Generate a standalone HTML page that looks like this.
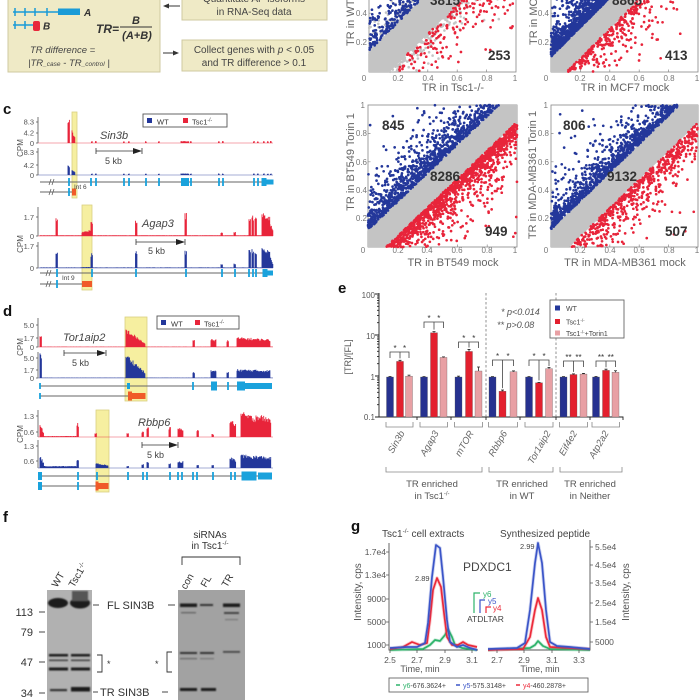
<!DOCTYPE html>
<html><head><meta charset="utf-8">
<style>
html,body{margin:0;padding:0;background:#fff;width:700px;height:700px;overflow:hidden}
svg{display:block}
text{font-family:"Liberation Sans",Arial,sans-serif}
</style></head><body>
<svg id="s" xmlns="http://www.w3.org/2000/svg" width="700" height="700" viewBox="0 0 700 700">
<defs>
<filter id="bl" x="-50%" y="-100%" width="200%" height="300%"><feGaussianBlur stdDeviation="0.9"/></filter>
<filter id="bl2" x="-50%" y="-100%" width="200%" height="300%"><feGaussianBlur stdDeviation="0.5"/></filter>
</defs>

<!-- ===== Panel b ===== -->
<rect x="8" y="-5" width="152" height="77" fill="#efeac6" stroke="#cfc9a0" stroke-width="1"/>
<g stroke="#1a9bd7" stroke-width="1.5" fill="none">
<line x1="13" y1="12" x2="60" y2="12"/>
<line x1="15" y1="8" x2="15" y2="16"/><line x1="25" y1="8" x2="25" y2="16"/><line x1="35" y1="8" x2="35" y2="16"/><line x1="47" y1="8" x2="47" y2="16"/>
<line x1="13" y1="25" x2="34" y2="25"/>
<line x1="15" y1="21" x2="15" y2="29"/><line x1="25" y1="21" x2="25" y2="29"/>
</g>
<rect x="58" y="8.5" width="22" height="6.5" fill="#1a9bd7"/>
<rect x="33" y="21" width="7" height="10" rx="2" fill="#e8283a"/>
<text x="84" y="16" font-size="10" font-style="italic" font-weight="bold" fill="#333">A</text>
<text x="43" y="29.5" font-size="10" font-style="italic" font-weight="bold" fill="#333">B</text>
<text x="96" y="33" font-size="12" font-style="italic" font-weight="bold" fill="#333">TR=</text>
<text x="136" y="24" font-size="11" font-style="italic" font-weight="bold" fill="#333" text-anchor="middle">B</text>
<line x1="120" y1="27" x2="152" y2="27" stroke="#333" stroke-width="1"/>
<text x="137" y="39" font-size="11" font-style="italic" font-weight="bold" fill="#333" text-anchor="middle">(A+B)</text>
<text x="30" y="53" font-size="9.5" font-style="italic" fill="#444">TR difference =</text>
<text x="28" y="66" font-size="9.5" font-style="italic" fill="#444">|TR<tspan font-size="6.5">_case</tspan> - TR<tspan font-size="6.5">_control</tspan> |</text>
<line x1="166" y1="6" x2="180" y2="6" stroke="#333" stroke-width="1"/>
<polygon points="163,6 169,3.5 169,8.5" fill="#333"/>
<line x1="163" y1="53" x2="175" y2="53" stroke="#333" stroke-width="1"/>
<polygon points="179,53 173,50.5 173,55.5" fill="#333"/>
<rect x="182" y="-5" width="145" height="25" fill="#efeac6" stroke="#cfc9a0"/>
<text x="254" y="2" font-size="10" fill="#444" text-anchor="middle">Quantitate AP isoforms</text>
<text x="254" y="15" font-size="10" fill="#444" text-anchor="middle">in RNA-Seq data</text>
<rect x="182" y="40" width="145" height="31" fill="#efeac6" stroke="#cfc9a0"/>
<text x="254" y="53" font-size="10" fill="#444" text-anchor="middle">Collect genes with <tspan font-style="italic">p</tspan> &lt; 0.05</text>
<text x="254" y="66" font-size="10" fill="#444" text-anchor="middle">and TR difference &gt; 0.1</text>

<!-- ===== scatter labels ===== -->
<g font-size="8" fill="#777">
<text x="367" y="16" text-anchor="end">0.4</text><text x="367" y="45" text-anchor="end">0.2</text>
<text x="364" y="81" text-anchor="middle">0</text><text x="398" y="81" text-anchor="middle">0.2</text><text x="428" y="81" text-anchor="middle">0.4</text><text x="457" y="81" text-anchor="middle">0.6</text><text x="487" y="81" text-anchor="middle">0.8</text><text x="515" y="81" text-anchor="middle">1</text>
<text x="549" y="16" text-anchor="end">0.4</text><text x="549" y="45" text-anchor="end">0.2</text>
<text x="546" y="81" text-anchor="middle">0</text><text x="580" y="81" text-anchor="middle">0.2</text><text x="610" y="81" text-anchor="middle">0.4</text><text x="639" y="81" text-anchor="middle">0.6</text><text x="669" y="81" text-anchor="middle">0.8</text><text x="697" y="81" text-anchor="middle">1</text>
<text x="365" y="108" text-anchor="end">1</text><text x="367" y="136" text-anchor="end">0.8</text><text x="367" y="165" text-anchor="end">0.6</text><text x="367" y="193" text-anchor="end">0.4</text><text x="367" y="221" text-anchor="end">0.2</text>
<text x="363" y="253" text-anchor="middle">0</text><text x="398" y="253" text-anchor="middle">0.2</text><text x="427" y="253" text-anchor="middle">0.4</text><text x="457" y="253" text-anchor="middle">0.6</text><text x="487" y="253" text-anchor="middle">0.8</text><text x="515" y="253" text-anchor="middle">1</text>
<text x="548" y="108" text-anchor="end">1</text><text x="549" y="136" text-anchor="end">0.8</text><text x="549" y="165" text-anchor="end">0.6</text><text x="549" y="193" text-anchor="end">0.4</text><text x="549" y="221" text-anchor="end">0.2</text>
<text x="546" y="253" text-anchor="middle">0</text><text x="580" y="253" text-anchor="middle">0.2</text><text x="610" y="253" text-anchor="middle">0.4</text><text x="639" y="253" text-anchor="middle">0.6</text><text x="669" y="253" text-anchor="middle">0.8</text><text x="697" y="253" text-anchor="middle">1</text>
</g>
<g font-size="11" fill="#666">
<text x="453" y="91" text-anchor="middle">TR in Tsc1-/-</text>
<text x="625" y="91" text-anchor="middle">TR in MCF7 mock</text>
<text x="453" y="266" text-anchor="middle">TR in BT549 mock</text>
<text x="625" y="266" text-anchor="middle">TR in MDA-MB361 mock</text>
<text transform="translate(354,46) rotate(-90)">TR in WT (Tsc1+/+)</text>
<text transform="translate(537,45) rotate(-90)">TR in MCF7 Torin1</text>
<text transform="translate(354,162) rotate(-90)" text-anchor="middle">TR in BT549 Torin 1</text>
<text transform="translate(536,175) rotate(-90)" text-anchor="middle">TR in MDA-MB361 Torin 1</text>
</g>
<g id="scat"></g>
<g font-size="13.5" font-weight="bold" fill="#333">
<text x="430" y="5">3815</text><text x="488" y="60">253</text>
<text x="612" y="5">8865</text><text x="665" y="60">413</text>
<text x="382" y="130">845</text><text x="430" y="181">8286</text><text x="485" y="236">949</text>
<text x="563" y="130">806</text><text x="607" y="181">9132</text><text x="665" y="236">507</text>
</g>

<!-- ===== Panel c ===== -->
<text x="3" y="114" font-size="15" font-weight="bold" fill="#111">c</text>
<rect x="72" y="112" width="5" height="86" fill="#f6efa0" stroke="#d9d082" stroke-width="0.8"/>
<rect x="82" y="205" width="10" height="85" fill="#f6efa0" stroke="#d9d082" stroke-width="0.8"/>
<rect x="125" y="317" width="22" height="84" fill="#f6efa0" stroke="#d9d082" stroke-width="0.8"/>
<rect x="96" y="410" width="13" height="82" fill="#f6efa0" stroke="#d9d082" stroke-width="0.8"/>
<g id="trk"></g>
<g font-size="7.5" fill="#555" text-anchor="end">
<text x="34" y="124.5">8.3</text><text x="34" y="135.5">4.2</text><text x="34" y="146">0</text>
<text x="34" y="155">8.3</text><text x="34" y="168">4.2</text><text x="34" y="178">0</text>
<text x="34" y="220">1.7</text><text x="34" y="239">0</text>
<text x="34" y="249">1.7</text><text x="34" y="271">0</text>
<text x="34" y="328">5.0</text><text x="34" y="341">1.7</text><text x="34" y="350">0</text>
<text x="34" y="361">5.0</text><text x="34" y="373">1.7</text><text x="34" y="381">0</text>
<text x="34" y="419">1.3</text><text x="34" y="435">0.6</text>
<text x="34" y="449">1.3</text><text x="34" y="464">0.6</text>
</g>
<g font-size="8" fill="#555">
<text transform="translate(23,148) rotate(-90)" text-anchor="middle">CPM</text>
<text transform="translate(23,244) rotate(-90)" text-anchor="middle">CPM</text>
<text transform="translate(23,347) rotate(-90)" text-anchor="middle">CPM</text>
<text transform="translate(23,434) rotate(-90)" text-anchor="middle">CPM</text>
</g>
<g font-size="11" font-style="italic" fill="#444">
<text x="100" y="139">Sin3b</text>
<text x="142" y="227">Agap3</text>
<text x="63" y="341">Tor1aip2</text>
<text x="138" y="426">Rbbp6</text>
</g>
<g stroke="#333" stroke-width="0.8">
<line x1="96" y1="151" x2="137" y2="151"/><line x1="96" y1="148" x2="96" y2="154"/><line x1="142" y1="148" x2="142" y2="154"/>
<line x1="136" y1="242" x2="180" y2="242"/><line x1="136" y1="239" x2="136" y2="245"/><line x1="185" y1="239" x2="185" y2="245"/>
<line x1="64" y1="353" x2="101" y2="353"/><line x1="64" y1="350" x2="64" y2="356"/><line x1="106" y1="350" x2="106" y2="356"/>
<line x1="142" y1="445" x2="173" y2="445"/><line x1="142" y1="442" x2="142" y2="448"/><line x1="178" y1="442" x2="178" y2="448"/>
</g>
<g fill="#222">
<polygon points="142,151 133,148 133,154"/>
<polygon points="185,242 176,239 176,245"/>
<polygon points="106,353 97,350 97,356"/>
<polygon points="178,445 169,442 169,448"/>
</g>
<g font-size="9" fill="#444">
<text x="105" y="164">5 kb</text>
<text x="148" y="254">5 kb</text>
<text x="72" y="366">5 kb</text>
<text x="147" y="458">5 kb</text>
</g>
<g font-size="6.5" fill="#444"><text x="74" y="189">Int 6</text><text x="62" y="280">Int 9</text></g>
<rect x="143" y="114" width="84" height="13" fill="#fff" stroke="#555" stroke-width="0.9"/>
<rect x="147" y="118" width="5" height="5" fill="#23379a"/><text x="157" y="124.5" font-size="7.5" fill="#333">WT</text>
<rect x="183" y="118" width="5" height="5" fill="#e8243a"/><text x="192" y="124.5" font-size="7.5" fill="#333">Tsc1<tspan font-size="5" dy="-3">-/-</tspan></text>
<rect x="157" y="316" width="82" height="13" fill="#fff" stroke="#555" stroke-width="0.9"/>
<rect x="161" y="320" width="5" height="5" fill="#23379a"/><text x="171" y="326.5" font-size="7.5" fill="#333">WT</text>
<rect x="195" y="320" width="5" height="5" fill="#e8243a"/><text x="204" y="326.5" font-size="7.5" fill="#333">Tsc1<tspan font-size="5" dy="-3">-/-</tspan></text>

<!-- ===== Panel d ===== -->
<text x="3" y="316" font-size="15" font-weight="bold" fill="#111">d</text>

<!-- ===== Panel e ===== -->
<text x="338" y="293" font-size="15" font-weight="bold" fill="#111">e</text>
<g id="pe"></g>
<line x1="486" y1="293" x2="486" y2="417" stroke="#777" stroke-width="0.8" stroke-dasharray="2.5,2"/>
<line x1="556" y1="293" x2="556" y2="417" stroke="#777" stroke-width="0.8" stroke-dasharray="2.5,2"/>
<g font-size="8" fill="#555" text-anchor="end">
<text x="375" y="298">100</text><text x="375" y="339">10</text><text x="375" y="380">1</text><text x="375" y="420">0.1</text>
</g>
<text transform="translate(351,357) rotate(-90)" font-size="9" fill="#555" text-anchor="middle">[TR]/[FL]</text>
<g font-size="9" font-style="italic" fill="#555">
<text x="501" y="315">* p&lt;0.014</text>
<text x="497" y="328">** p&gt;0.08</text>
</g>
<rect x="550" y="300" width="74" height="38" fill="#fff" stroke="#666" stroke-width="0.9"/>
<rect x="555" y="305.5" width="5" height="5" fill="#23379a"/>
<rect x="555" y="319" width="5" height="5" fill="#e3202e"/>
<rect x="555" y="330.5" width="5" height="5" fill="#e8a0a4"/>
<g font-size="7" fill="#444">
<text x="566" y="311">WT</text>
<text x="566" y="324.5">Tsc1<tspan font-size="4.5" dy="-2.5">-/-</tspan></text>
<text x="566" y="336">Tsc1<tspan font-size="4.5" dy="-2.5">-/-</tspan><tspan dy="2.5">+Torin1</tspan></text>
</g>
<g font-size="9.5" fill="#555" text-anchor="middle">
<text x="432" y="487">TR enriched</text><text x="432" y="499">in Tsc1<tspan font-size="6" dy="-3.5">-/-</tspan></text>
<text x="522" y="487">TR enriched</text><text x="522" y="499">in WT</text>
<text x="590" y="487">TR enriched</text><text x="590" y="499">in Neither</text>
</g>

<!-- ===== Panel f ===== -->
<text x="3" y="522" font-size="15" font-weight="bold" fill="#111">f</text>
<rect x="47" y="590" width="45" height="110" fill="#b1b1b1"/>
<rect x="178" y="590" width="67" height="110" fill="#a2a2a2"/>
<g filter="url(#bl)" fill="#1a1a1a">
<ellipse cx="58" cy="603" rx="10" ry="5"/>
<ellipse cx="80" cy="603" rx="10" ry="5.5"/>
<rect x="72" y="591" width="16" height="10" fill="#555"/>
<rect x="49" y="654" width="19" height="2.5"/><rect x="71" y="654" width="19" height="2.5"/>
<rect x="49" y="659.5" width="19" height="1.6" fill="#444"/><rect x="71" y="659.5" width="19" height="1.6" fill="#444"/>
<rect x="49" y="667.5" width="19" height="3"/><rect x="71" y="667.5" width="19" height="3"/>
<rect x="50" y="689" width="17" height="2.2" fill="#333"/>
<rect x="71" y="687" width="19" height="4.5"/>
<rect x="180" y="603.5" width="17" height="3.5"/>
<rect x="200" y="604" width="13" height="2" fill="#333"/>
<rect x="223" y="603.5" width="17" height="3.5"/>
<rect x="181" y="612" width="15" height="1.4" fill="#666"/>
<rect x="224" y="612" width="15" height="2" fill="#444"/>
<rect x="225" y="619" width="13" height="1.2" fill="#777"/>
<rect x="180" y="652" width="17" height="2" fill="#333"/>
<rect x="200" y="652" width="14" height="2" fill="#333"/>
<rect x="223" y="651" width="17" height="1.8" fill="#444"/>
<rect x="180" y="658" width="17" height="1.3" fill="#666"/>
<rect x="200" y="658" width="14" height="1.3" fill="#777"/>
<rect x="180" y="688" width="17" height="3"/>
<rect x="201" y="688" width="15" height="3"/>
</g>
<g font-size="11" fill="#333">
<text x="33" y="616" text-anchor="end">113</text>
<text x="33" y="636" text-anchor="end">79</text>
<text x="33" y="666" text-anchor="end">47</text>
<text x="33" y="697" text-anchor="end">34</text>
<text x="107" y="609">FL SIN3B</text>
<text x="100" y="696">TR SIN3B</text>
<text x="210" y="538" text-anchor="middle" font-size="10">siRNAs</text>
<text x="210" y="549" text-anchor="middle" font-size="10">in Tsc1<tspan font-size="6.5" dy="-4">-/-</tspan></text>
</g>
<g stroke="#333" stroke-width="0.9" fill="none">
<line x1="39" y1="612" x2="45" y2="612"/><line x1="39" y1="632" x2="45" y2="632"/><line x1="39" y1="662" x2="45" y2="662"/><line x1="39" y1="693" x2="45" y2="693"/>
<line x1="93" y1="605" x2="99" y2="605"/><line x1="168" y1="605" x2="175" y2="605"/>
<line x1="93" y1="692" x2="98" y2="692"/><line x1="162" y1="692" x2="168" y2="692"/>
<polyline points="97,655 102,655 102,672 97,672"/>
<polyline points="172,652 167,652 167,672 172,672"/>
<polyline points="182,565 182,557 240,557 240,565"/>
</g>
<text x="107" y="667" font-size="9" fill="#333">*</text>
<text x="155" y="667" font-size="9" fill="#333">*</text>
<g font-size="10" fill="#333">
<text transform="translate(57,588) rotate(-60)">WT</text>
<text transform="translate(74,588) rotate(-60)">Tsc1<tspan font-size="6.5" dy="-3">-/-</tspan></text>
<text transform="translate(186,590) rotate(-60)">con</text>
<text transform="translate(206,588) rotate(-60)">FL</text>
<text transform="translate(227,588) rotate(-60)">TR</text>
</g>

<!-- ===== Panel g ===== -->
<text x="351" y="531" font-size="15" font-weight="bold" fill="#111">g</text>
<text x="382" y="537" font-size="10" fill="#444">Tsc1<tspan font-size="6.5" dy="-4">-/-</tspan><tspan dy="4"> cell extracts</tspan></text>
<text x="500" y="537" font-size="10" fill="#444">Synthesized peptide</text>
<g stroke="#555" stroke-width="0.9" fill="none">
<polyline points="389,543 389,650 478,650"/>
<polyline points="488,650 590,650 590,540"/>
</g>
<g id="pg"></g>
<g font-size="8.5" fill="#555">
<text x="386" y="555" text-anchor="end">1.7e4</text><text x="386" y="578" text-anchor="end">1.3e4</text><text x="386" y="602" text-anchor="end">9000</text><text x="386" y="625" text-anchor="end">5000</text><text x="386" y="648" text-anchor="end">1000</text>
<text x="595" y="550">5.5e4</text><text x="595" y="568">4.5e4</text><text x="595" y="586">3.5e4</text><text x="595" y="606">2.5e4</text><text x="595" y="625">1.5e4</text><text x="595" y="645">5000</text>
<text x="390" y="663" text-anchor="middle">2.5</text><text x="417" y="663" text-anchor="middle">2.7</text><text x="445" y="663" text-anchor="middle">2.9</text><text x="472" y="663" text-anchor="middle">3.1</text>
<text x="497" y="663" text-anchor="middle">2.7</text><text x="524" y="663" text-anchor="middle">2.9</text><text x="552" y="663" text-anchor="middle">3.1</text><text x="579" y="663" text-anchor="middle">3.3</text>
</g>
<g font-size="9" fill="#555">
<text x="420" y="672" text-anchor="middle">Time, min</text>
<text x="540" y="672" text-anchor="middle">Time, min</text>
</g>
<g font-size="10" fill="#555">
<text transform="translate(361,592) rotate(-90)" text-anchor="middle">Intensity, cps</text>
<text transform="translate(629,592) rotate(-90)" text-anchor="middle">Intensity, cps</text>
</g>
<text x="463" y="571" font-size="12" fill="#444">PDXDC1</text>
<text x="415" y="581" font-size="7.5" fill="#444">2.89</text>
<text x="520" y="549" font-size="7.5" fill="#444">2.99</text>
<g fill="none" stroke-width="1.2">
<polyline points="480,593 474,593 474,613" stroke="#2db36a"/>
<polyline points="485,600 480,600 480,613" stroke="#3b55c8"/>
<polyline points="491,607 486,607 486,613" stroke="#ec2a3a"/>
</g>
<text x="483" y="597" font-size="8" fill="#2db36a">y6</text>
<text x="488" y="604" font-size="8" fill="#3b55c8">y5</text>
<text x="493" y="611" font-size="8" fill="#ec2a3a">y4</text>
<text x="467" y="622" font-size="8.5" fill="#444">ATDLTAR</text>
<rect x="389" y="678" width="199" height="14" fill="#fff" stroke="#666" stroke-width="0.9"/>
<g stroke-width="1.5"><line x1="396" y1="685" x2="400" y2="685" stroke="#2db36a"/><line x1="456" y1="685" x2="460" y2="685" stroke="#3b55c8"/><line x1="516" y1="685" x2="520" y2="685" stroke="#ec2a3a"/></g>
<g font-size="7" fill="#444">
<text x="403" y="688"><tspan fill="#2db36a">y6</tspan>-676.3624+</text>
<text x="463" y="688"><tspan fill="#3b55c8">y5</tspan>-575.3148+</text>
<text x="523" y="688"><tspan fill="#ec2a3a">y4</tspan>-460.2878+</text>
</g>
</svg>
<script>
(function(){
const NS="http://www.w3.org/2000/svg";
function el(tag,a,p){const e=document.createElementNS(NS,tag);for(const k in a)e.setAttribute(k,a[k]);p.appendChild(e);return e;}
let seed=987654;
function rnd(){seed=(seed*1103515245+12345)%2147483648;return seed/2147483648;}
function expo(s){return -Math.log(1-rnd()*0.9995)*s;}
const BLUE="#23379a",RED="#e8243a",GRAY="#c4c4c4";
const scat=document.getElementById('scat');
function dot(x,y,r){return "M"+(x-r).toFixed(1)+" "+y.toFixed(1)+"a"+r+" "+r+" 0 1 0 "+(2*r)+" 0a"+r+" "+r+" 0 1 0 "+(-2*r)+" 0";}
function scatter(x0,yb,W,H,w,nB,sB,nR,sR,nG,sG){
  const X=v=>x0+v*W,Y=v=>yb-v*H;
  const g=el('g',{},scat);
  el('rect',{x:x0,y:yb-H,width:W,height:H,fill:'#fff',stroke:'#888','stroke-width':0.8},g);
  let tk="";
  for(let i=1;i<5;i++){tk+="M"+X(i/5)+" "+yb+"v-2.5M"+x0+" "+Y(i/5)+"h2.5";}
  el('path',{d:tk,stroke:'#888','stroke-width':0.7},g);
  const pts=[[0,0],[w,0],[1,1-w],[1,1],[1-w,1],[0,w]];
  let gd="";
  for(let i=0;i<nG;i++){const x=rnd();const d=w-0.02+expo(sG);const side=rnd()<0.5?1:-1;const y=x+side*d;if(y<0||y>1)continue;gd+=dot(X(x),Y(y),1.3);}
  el('path',{d:gd,fill:GRAY},g);
  el('polygon',{points:pts.map(p=>X(p[0]).toFixed(1)+","+Y(p[1]).toFixed(1)).join(" "),fill:GRAY},g);
  let bd="",rd="";
  for(let i=0;i<nB*1.6&&nB>0;i++){const x=rnd();const d=w+(rnd()<0.85?expo(sB*0.8):expo(sB*2.2));const y=x+d;if(y>1)continue;bd+=dot(X(x),Y(y),1.35);}
  for(let i=0;i<nR*1.6&&nR>0;i++){const x=rnd();const d=w+(rnd()<0.85?expo(sR*0.8):expo(sR*2.2));const y=x-d;if(y<0)continue;rd+=dot(X(x),Y(y),1.35);}
  el('path',{d:bd,fill:BLUE},g);
  el('path',{d:rd,fill:RED},g);
}
scatter(369,72,147,147,0.14,420,0.11,200,0.16,700,0.06);
scatter(551,72,147,147,0.105,1500,0.075,380,0.1,80,0.015);
scatter(368,247,149,142,0.12,845,0.1,949,0.1,60,0.01);
scatter(551,247,147,142,0.125,806,0.09,507,0.12,60,0.01);

const trk=document.getElementById('trk');
function cov(y0,col,items,ax){
  el('line',{x1:38,y1:y0,x2:273,y2:y0,stroke:col,'stroke-width':0.7,opacity:0.55},trk);
  let d="";
  for(const it of items){const [x1,x2,h1,h2]=it;
    for(let x=x1;x<=x2;x+=0.7){const f=(x-x1)/Math.max(0.001,x2-x1);const h=(h1+(h2-h1)*f)*(0.72+0.28*rnd());d+="M"+x.toFixed(1)+" "+y0+"v"+(-h).toFixed(1);}
  }
  el('path',{d:d,stroke:col,'stroke-width':0.9,fill:'none'},trk);
  el('path',{d:"M38 "+ax[0]+"V"+y0+ax[1].map(t=>"M36 "+t+"h2").join(""),stroke:'#555','stroke-width':0.8,fill:'none'},trk);
}
function gene(y,x1,x2,ex,brk){
  el('line',{x1:x1,y1:y,x2:x2,y2:y,stroke:'#666','stroke-width':1.1},trk);
  if(brk){el('path',{d:"M"+(brk-1)+" "+(y+3)+"l2 -6M"+(brk+2)+" "+(y+3)+"l2 -6",stroke:'#666','stroke-width':0.8,fill:'none'},trk);}
  for(const e of ex){const [x,w,h,c]=e;el('rect',{x:x-w/2,y:y-h/2,width:w,height:h,fill:c||'#1aa2dc'},trk);}
}
const O='#f05a28';
const smallS=[92,96,124,129,146,159,185,191,219,223,254,258,264,268,271];
let r1=[[68,70,25,25],[72,75,13,6]],b1=[[68,70,10,10],[72,75,5,3]];
smallS.forEach(x=>{r1.push([x-0.5,x+0.5,2,2]);b1.push([x-0.5,x+0.5,1.5,1.5]);});
r1.push([181,189,2,2]);b1.push([181,189,1.5,1.5]);
cov(143,'#e8243a',r1,[117,[122,133,143]]);
cov(175,'#23379a',b1,[148,[152,165,175]]);
gene(182,40,268,[[69,1.8,8],[91,1.8,8],[96,1.8,8],[124,1.8,8],[129,1.8,8],[146,1.8,8],[159,1.8,8],[185,8,8],[191,1.8,8],[219,1.8,8],[223,1.8,8],[254,1.8,8],[258,1.8,8],[264,5,8],[270,7,5]],50);
gene(192,40,72,[[69,1.8,8],[74,4,7,O]],50);
cov(236,'#e8243a',[[40,273,0.8,0.8],[56,58,20,20],[82,92,4,7],[91,93,16,16],[135.5,137,16,16],[185,187,23,23],[221,223,4,4],[234,236,4,4],[249,251,20,20],[252,254,21,21],[255,257,19,19],[262,270,24,20],[270,273,14,6]],[207,[217,236]]);
cov(268,'#23379a',[[40,273,0.6,0.6],[56,58,16,16],[82,92,1,1],[91,93,15,15],[135.5,137,17,17],[185,187,18,18],[221,223,4,4],[234,236,5,5],[249,251,19,19],[252,254,19,19],[255,257,17,17],[262,270,21,18],[270,273,12,5]],[242,[246,268]]);
gene(273,40,268,[[57,1.8,8],[92,1.8,8],[136,1.8,8],[186,1.8,8],[222,1.8,8],[235,1.8,8],[249,1.8,8],[253,1.8,8],[256,1.8,8],[265,5,8],[270,6,5]],47);
gene(284,40,83,[[57,1.8,8],[87,10,6,O]],47);
cov(347,'#e8243a',[[40,273,0.4,0.4],[40,42,12,12],[126,145,19,4],[193,195,7,7],[211,216,8,8],[227,229,7,7],[237,270,10,8]],[318,[325,338,347]]);
cov(378,'#23379a',[[40,273,0.4,0.4],[40,42,25,25],[126,145,25,6],[193,195,6,6],[211,216,8,8],[227,229,6,6],[237,270,9,8]],[352,[358,370,378]]);
gene(386,40,268,[[40,1.8,6],[128.5,3,6],[193,1.8,8],[214,6,9],[228,1.8,8],[241,8,9],[258,28,6]],0);
gene(396,40,130,[[40,1.8,6],[137,17,6,O],[130,4,9,O]],0);
cov(437,'#e8243a',[[40,44,14,4],[44,78,1,1],[77,79,14,14],[95,97,4,4],[127,129,4,4],[142,144,6,6],[147,149,10,10],[169,171,10,10],[178,183,9,9],[197,199,8,8],[212,214,3,3],[230,236,18,14],[241,256,26,20],[256,271,24,19]],[410,[416,432]]);
cov(468,'#23379a',[[40,44,13,5],[44,78,2,2],[77,79,10,10],[96,108,5,3],[127,129,2,2],[142,144,4,4],[147,149,7,7],[169,171,5,5],[178,183,7,7],[197,199,3,3],[212,214,3,3],[230,236,12,8],[241,256,14,12],[256,271,13,11]],[440,[446,461]]);
gene(476,40,268,[[40,4,8],[78,1.8,8],[97,1.8,8],[128,1.8,8],[143,1.8,8],[147,1.8,8],[170,1.8,8],[178,1.8,8],[182,1.8,8],[193,1.8,8],[197,1.8,8],[213,1.8,8],[231,1.8,8],[235,1.8,8],[249,15,9],[265,14,7]],0);
gene(486,40,96,[[40,4,8],[78,1.8,8],[103,11,6,O],[97,3,9,O]],0);

const pe=document.getElementById('pe');
const ey=v=>377-41*Math.log10(v);
let ax="M379 293V417H623v3";
for(let dec=0;dec<3;dec++){const base=417-41*dec;ax+="M375 "+base+"h4";for(let k=2;k<10;k++){ax+="M377 "+(base-41*Math.log10(k)).toFixed(1)+"h2";}}
ax+="M375 294h4";
[417,451,486,520,556,590].forEach(x=>{ax+="M"+x+" 417v3";});
el('path',{d:ax,stroke:'#222','stroke-width':0.9,fill:'none'},pe);
const G=[["Sin3b",[390,400,409],[1,2.4,1.05],[.03,.15,.06],352,5],
["Agap3",[424,434,443.5],[1,12,3],[.02,.8,.1],322,5],
["mTOR",[458.5,469,478.5],[1,4.2,1.4],[.05,.5,.35],342,5],
["Rbbp6",[492.5,502.5,513.5],[1,.45,1.35],[.02,.03,.06],360,5],
["Tor1aip2",[529,539,549],[1,.72,1.6],[.02,.02,.12],360,12],
["Eif4e2",[563.5,573.5,583.5],[1,1.15,1.18],[.02,.04,.04],361,4],
["Atp2a2",[596,606,615.5],[1,1.45,1.3],[.03,.1,.12],361,3]];
const cols=["#26318f","#e3202e","#e8a0a4"];
G.forEach(g=>{
  const [name,cx,v,e,yb,off]=g;
  for(let i=0;i<3;i++){
    const t=ey(v[i]);
    el('rect',{x:cx[i]-3.5,y:t,width:7,height:417-t,fill:cols[i],stroke:'#555','stroke-width':0.3},pe);
    const te=ey(v[i]+e[i]);
    el('path',{d:"M"+cx[i]+" "+t+"V"+te+"M"+(cx[i]-1.5)+" "+te+"h3",stroke:'#222','stroke-width':0.8,fill:'none'},pe);
  }
  const rt=ey(v[1]+e[1]);
  el('path',{d:"M"+cx[0]+" "+(yb+6)+"V"+yb+"H"+cx[2]+"v6M"+cx[1]+" "+yb+"V"+Math.max(yb+4,rt-2),stroke:'#444','stroke-width':0.8,fill:'none'},pe);
  const star=(name==="Eif4e2"||name==="Atp2a2")?"**":"*";
  [(cx[0]+cx[1])/2,(cx[1]+cx[2])/2].forEach(x=>{el('text',{x:x,y:yb-1,'font-size':8,'text-anchor':'middle',fill:'#333'},pe).textContent=star;});
  el('path',{d:"M"+(cx[0]-4)+" 422V427H"+(cx[2]+4)+"V422",stroke:'#888','stroke-width':0.8,fill:'none'},pe);
  const t=el('text',{transform:"translate("+(cx[1]+off)+",433) rotate(-60)",'font-size':9.5,'font-style':'italic','text-anchor':'end',fill:'#666'},pe);
  t.textContent=name;
});
[[386,482],[489,553],[560,622]].forEach(s=>{el('path',{d:"M"+s[0]+" 467V472H"+s[1]+"V467",stroke:'#888','stroke-width':0.8,fill:'none'},pe);});

const pg=document.getElementById('pg');
function line(pts,col){
  const p=pts.map(q=>q.join(",")).join(" ");
  el('polyline',{points:p,fill:'none',stroke:col,'stroke-width':3.4,opacity:0.25,'stroke-linejoin':'round'},pg);
  el('polyline',{points:p,fill:'none',stroke:col,'stroke-width':1.7,'stroke-linejoin':'round'},pg);
}
line([[390,650],[423,649],[430,645],[435,640],[440,641],[445,635],[448,629],[452,637],[455,645],[462,648],[477,650]],"#2db36a");
line([[390,649],[403,647],[412,642],[420,645],[427,643],[430,620],[433,590],[437,578],[441,587],[444,613],[447,637],[452,645],[458,645],[463,642],[468,645],[477,647]],"#ec2a3a");
line([[390,648],[407,647],[417,647],[425,643],[428,623],[432,577],[436,545],[440,548],[443,577],[447,620],[450,642],[457,647],[463,645],[470,648],[477,650]],"#3b55c8");
line([[488,650],[530,648],[535,645],[538,641],[543,646],[550,649],[590,650]],"#2db36a");
line([[488,650],[523,649],[530,637],[535,610],[538,598],[542,610],[546,637],[550,647],[590,649]],"#ec2a3a");
line([[488,649],[517,648],[525,643],[530,610],[535,563],[538,543],[542,563],[546,610],[550,642],[557,646],[570,647],[590,649]],"#3b55c8");
let tk="";
[552,575,599,622,645].forEach(y=>tk+="M386 "+y+"h3");
[547,565,583,603,622,642].forEach(y=>tk+="M590 "+y+"h3");
[390,417,445,472,497,524,552,579].forEach(x=>tk+="M"+x+" 650v3");
el('path',{d:tk,stroke:'#555','stroke-width':0.8},pg);
})();
</script>
</body></html>
